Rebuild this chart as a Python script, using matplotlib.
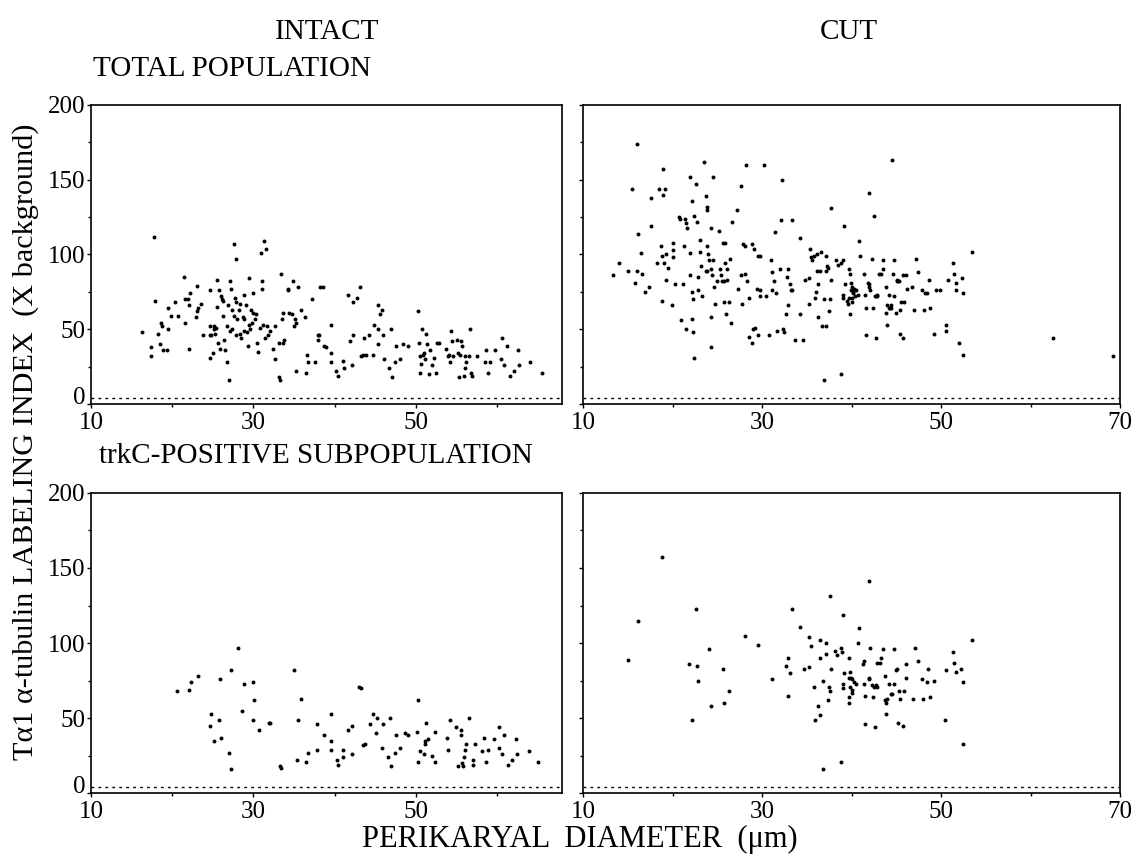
import matplotlib
matplotlib.use("Agg")
import matplotlib.pyplot as plt
from matplotlib.ticker import MultipleLocator

plt.rcParams['font.family'] = ['Liberation Serif', 'DejaVu Serif']

# perikaryal diameter (um) vs labeling index (x background)
intact_total_x = [16.3, 17.4, 17.4, 17.8, 17.9, 18.3, 18.5, 18.6, 18.7, 18.9, 19.4, 19.5, 19.5, 19.9, 20.3,
                  20.7, 21.5, 21.6, 21.6, 21.9, 22.1, 22.1, 22.2, 22.9, 23.0, 23.1, 23.2, 23.5, 23.8, 24.6,
                  24.6, 24.7, 24.7, 24.8, 25.0, 25.1, 25.2, 25.3, 25.4, 25.5, 25.5, 25.6, 25.8, 25.9, 26.0,
                  26.1, 26.2, 26.3, 26.4, 26.5, 26.7, 26.8, 26.9, 27.0, 27.1, 27.1, 27.3, 27.4, 27.4, 27.6,
                  27.6, 27.7, 27.8, 27.9, 27.9, 28.0, 28.2, 28.3, 28.4, 28.5, 28.7, 28.8, 28.9, 28.9, 29.1,
                  29.2, 29.3, 29.4, 29.5, 29.6, 29.7, 29.8, 29.9, 30.0, 30.2, 30.3, 30.5, 30.6, 30.8, 30.9,
                  31.0, 31.1, 31.2, 31.3, 31.4, 31.5, 31.7, 31.8, 32.0, 32.4, 32.6, 32.7, 33.1, 33.2, 33.3,
                  33.4, 33.5, 33.7, 33.7, 33.8, 34.2, 34.3, 34.4, 34.7, 34.9, 35.0, 35.1, 35.2, 35.3, 35.5,
                  35.8, 36.3, 36.5, 36.6, 36.7, 37.2, 37.6, 37.9, 37.9, 38.1, 38.2, 38.6, 38.7, 38.9, 39.5,
                  39.5, 39.5, 40.2, 40.4, 41.0, 41.1, 41.7, 41.9, 42.1, 42.3, 42.3, 42.8, 43.1, 43.3, 43.5,
                  43.6, 43.9, 44.2, 44.7, 44.8, 45.3, 45.3, 45.4, 45.6, 45.8, 46.0, 46.1, 46.7, 46.9, 47.1,
                  47.4, 47.5, 48.1, 48.4, 49.0, 50.3, 50.4, 50.5, 50.5, 50.6, 50.7, 50.9, 51.0, 51.1, 51.3,
                  51.4, 51.6, 51.8, 52.0, 52.2, 52.5, 52.6, 52.9, 53.7, 53.9, 54.1, 54.2, 54.3, 54.4, 54.6,
                  55.1, 55.2, 55.3, 55.4, 55.6, 55.7, 55.9, 56.0, 56.1, 56.2, 56.5, 56.7, 56.8, 56.9, 57.5,
                  58.5, 58.7, 58.9, 59.1, 59.8, 60.5, 60.6, 60.9, 61.2, 61.6, 62.1, 62.6, 62.7, 64.1, 65.5]
intact_total_y = [48, 38, 32, 112, 69, 47, 40, 54, 52, 36, 36, 64, 50, 59, 68,
                  59, 85, 70, 54, 70, 66, 37, 74, 58, 79, 62, 64, 67, 46, 76,
                  31, 52, 46, 46, 34, 50, 52, 47, 51, 65, 83, 41, 76, 37, 72,
                  70, 69, 59, 43, 36, 52, 28, 66, 16, 82, 49, 77, 50, 63, 107,
                  59, 71, 97, 46, 68, 57, 63, 47, 67, 44, 58, 73, 57, 49, 66,
                  48, 39, 53, 84, 50, 63, 54, 74, 61, 57, 60, 41, 35, 51, 101,
                  77, 82, 53, 109, 44, 104, 52, 46, 49, 37, 52, 30, 41, 18, 16,
                  87, 57, 41, 61, 43, 77, 76, 61, 60, 82, 52, 57, 54, 22, 78,
                  63, 58, 21, 33, 28, 70, 28, 46, 43, 46, 78, 78, 39, 38, 34,
                  53, 28, 22, 19, 29, 24, 73, 42, 26, 46, 68, 71, 78, 32, 33,
                  44, 33, 46, 33, 53, 66, 50, 40, 60, 63, 46, 30, 24, 50, 18,
                  28, 39, 30, 40, 39, 62, 41, 32, 21, 27, 50, 33, 34, 30, 47,
                  40, 20, 36, 26, 31, 21, 41, 41, 37, 32, 33, 28, 49, 42, 32,
                  43, 34, 18, 33, 42, 39, 19, 24, 32, 28, 32, 50, 21, 19, 32,
                  28, 36, 21, 28, 36, 30, 44, 26, 39, 19, 22, 36, 26, 28, 21]

cut_total_x = [13.4, 14.0, 15.0, 15.5, 15.8, 16.0, 16.0, 16.2, 16.5, 16.6, 16.9, 17.4, 17.6, 17.6, 18.3,
               18.5, 18.7, 18.8, 18.8, 18.9, 18.9, 19.0, 19.2, 19.3, 19.3, 19.5, 19.9, 20.0, 20.1, 20.1,
               20.3, 20.7, 20.8, 21.0, 21.2, 21.3, 21.4, 21.5, 21.5, 21.6, 21.9, 21.9, 22.0, 22.2, 22.2,
               22.2, 22.3, 22.3, 22.4, 22.4, 22.6, 22.7, 22.8, 22.9, 23.1, 23.1, 23.2, 23.3, 23.5, 23.7,
               23.7, 23.8, 23.8, 23.9, 23.9, 24.0, 24.1, 24.3, 24.3, 24.3, 24.3, 24.4, 24.5, 24.5, 24.6,
               24.7, 25.0, 25.2, 25.3, 25.4, 25.5, 25.6, 25.7, 25.7, 25.9, 25.9, 26.0, 26.1, 26.1, 26.3,
               26.4, 26.5, 26.7, 27.2, 27.3, 27.6, 27.7, 27.8, 27.9, 28.1, 28.1, 28.2, 28.3, 28.5, 28.6,
               28.9, 28.9, 29.0, 29.1, 29.2, 29.4, 29.5, 29.6, 29.8, 29.8, 29.8, 30.2, 30.4, 30.8, 31.0,
               31.1, 31.1, 31.3, 31.4, 31.6, 31.7, 32.0, 32.1, 32.2, 32.4, 32.5, 32.7, 32.8, 32.9, 32.9,
               33.1, 33.2, 33.3, 33.4, 33.7, 34.2, 34.2, 34.6, 34.8, 35.2, 35.3, 35.4, 35.5, 35.6, 35.8,
               35.9, 36.0, 36.1, 36.1, 36.2, 36.3, 36.5, 36.6, 36.7, 36.9, 36.9, 37.1, 37.2, 37.2, 37.3,
               37.4, 37.5, 37.6, 37.7, 37.7, 38.3, 38.5, 38.8, 38.8, 39.0, 39.0, 39.1, 39.2, 39.3, 39.5,
               39.6, 39.7, 39.7, 39.8, 39.8, 39.9, 39.9, 40.0, 40.1, 40.1, 40.2, 40.2, 40.3, 40.4, 40.5,
               40.7, 40.8, 40.9, 41.4, 41.5, 41.6, 41.6, 41.8, 41.9, 42.0, 42.0, 42.1, 42.3, 42.4, 42.5,
               42.6, 42.7, 42.7, 42.9, 42.9, 43.1, 43.3, 43.5, 43.5, 43.8, 43.9, 44.0, 44.0, 44.2, 44.2,
               44.3, 44.4, 44.4, 44.5, 44.6, 44.8, 44.8, 45.0, 45.1, 45.1, 45.2, 45.3, 45.4, 45.4, 45.5,
               45.7, 45.8, 45.9, 46.1, 46.2, 46.8, 47.0, 47.2, 47.4, 47.9, 48.1, 48.2, 48.4, 48.6, 48.8,
               49.2, 49.4, 49.9, 50.5, 50.5, 50.8, 51.3, 51.5, 51.7, 51.7, 52.0, 52.3, 52.5, 52.5, 53.5,
               62.5, 69.2]
cut_total_y = [86, 94, 89, 144, 81, 174, 89, 114, 101, 87, 75, 78, 138, 119, 94,
               144, 106, 99, 69, 157, 140, 94, 144, 83, 100, 91, 66, 103, 108, 98,
               80, 125, 124, 56, 80, 106, 124, 50, 121, 118, 101, 86, 152, 75, 57,
               136, 48, 70, 31, 126, 147, 122, 85, 76, 110, 102, 92, 72, 162, 89,
               139, 106, 130, 132, 89, 100, 96, 118, 90, 58, 38, 86, 96, 152, 78,
               67, 82, 116, 90, 86, 82, 108, 68, 82, 108, 94, 60, 83, 90, 68,
               97, 54, 122, 130, 77, 146, 86, 67, 107, 106, 87, 160, 82, 45, 71,
               41, 107, 50, 104, 51, 77, 46, 99, 99, 76, 72, 160, 72, 46, 96,
               88, 76, 82, 115, 74, 49, 90, 123, 150, 50, 48, 60, 85, 66, 90,
               80, 76, 123, 76, 43, 111, 60, 43, 83, 84, 67, 104, 98, 96, 99,
               71, 75, 89, 100, 80, 58, 89, 102, 52, 70, 16, 89, 99, 52, 92,
               91, 62, 70, 131, 83, 96, 93, 94, 20, 96, 73, 71, 119, 80, 69,
               67, 71, 90, 87, 60, 81, 76, 68, 78, 71, 75, 74, 77, 72, 76,
               73, 109, 99, 87, 73, 64, 46, 81, 141, 78, 80, 76, 97, 64, 126,
               72, 72, 44, 73, 72, 87, 87, 90, 96, 78, 61, 53, 66, 73, 64,
               64, 66, 64, 163, 87, 96, 72, 61, 83, 82, 82, 82, 47, 63, 68,
               86, 44, 68, 86, 77, 78, 63, 97, 88, 76, 63, 74, 74, 83, 64,
               47, 76, 76, 53, 49, 83, 94, 87, 76, 81, 41, 84, 74, 33, 102,
               44, 32]

intact_trkc_x = [20.6, 22.1, 22.3, 23.2, 24.7, 24.8, 25.1, 25.8, 25.9, 26.0, 27.0, 27.2, 27.2, 28.1, 28.6,
                 28.9, 30.0, 30.1, 30.0, 30.7, 31.9, 32.1, 33.3, 33.4, 35.0, 35.4, 35.5, 35.8, 36.5, 36.7,
                 37.8, 37.8, 38.7, 39.5, 39.6, 39.6, 40.3, 40.4, 41.0, 41.0, 41.7, 42.1, 42.2, 43.0, 43.2,
                 43.5, 43.7, 44.3, 44.7, 45.1, 45.2, 45.8, 45.9, 46.6, 46.8, 47.0, 47.4, 47.5, 48.1, 48.7,
                 49.0, 50.2, 50.3, 50.3, 50.5, 51.0, 51.1, 51.1, 51.3, 51.5, 52.0, 52.4, 52.4, 53.8, 54.0,
                 54.2, 54.9, 55.2, 55.5, 55.6, 55.7, 55.8, 55.9, 56.0, 56.2, 56.5, 57.0, 57.1, 57.3, 58.2,
                 58.4, 58.7, 58.9, 59.6, 60.2, 60.3, 60.6, 60.8, 61.3, 61.8, 62.3, 62.5, 63.9, 65.1]
intact_trkc_y = [68, 69, 74, 78, 45, 53, 35, 49, 76, 37, 27, 16, 82, 97, 55,
                 73, 74, 62, 49, 42, 47, 47, 18, 17, 82, 22, 49, 63, 21, 27,
                 46, 29, 39, 53, 35, 29, 22, 19, 29, 24, 42, 26, 45, 71, 70,
                 32, 33, 46, 53, 40, 50, 30, 46, 24, 50, 18, 27, 39, 30, 40,
                 39, 41, 62, 21, 28, 26, 33, 35, 47, 36, 25, 41, 21, 37, 29,
                 49, 44, 18, 42, 39, 20, 18, 24, 29, 33, 50, 22, 19, 33, 28,
                 37, 21, 29, 36, 30, 44, 26, 39, 19, 22, 36, 26, 28, 21]

cut_trkc_x = [15.0, 16.1, 18.8, 21.8, 22.2, 22.6, 22.7, 22.8, 24.1, 24.3, 25.6, 25.8, 26.3, 28.1, 29.5,
              31.1, 32.7, 32.9, 32.9, 33.1, 33.3, 34.2, 34.7, 35.2, 35.2, 35.5, 35.8, 35.9, 36.3, 36.5,
              36.5, 36.5, 36.8, 36.8, 37.1, 37.1, 37.4, 37.5, 37.6, 37.6, 37.7, 38.2, 38.4, 38.8, 38.9,
              38.8, 39.0, 39.0, 39.1, 39.2, 39.7, 39.7, 39.7, 39.7, 39.8, 39.8, 39.9, 40.0, 40.1, 40.1,
              40.3, 40.5, 40.7, 40.8, 41.3, 41.4, 41.4, 41.5, 41.5, 41.9, 41.9, 42.0, 42.1, 42.3, 42.4,
              42.5, 42.6, 42.7, 42.8, 42.8, 43.2, 43.3, 43.5, 43.7, 43.7, 43.8, 43.9, 44.0, 44.2, 44.4,
              44.5, 44.7, 44.7, 45.0, 45.1, 45.2, 45.3, 45.4, 45.7, 45.9, 46.1, 46.1, 46.9, 47.1, 47.4,
              47.9, 48.0, 48.4, 48.5, 48.8, 49.2, 50.4, 50.6, 51.3, 51.4, 51.7, 52.2, 52.4, 52.4, 53.5]
cut_trkc_y = [89, 115, 157, 86, 49, 123, 85, 75, 96, 58, 83, 60, 68, 105, 99,
              76, 85, 90, 65, 80, 123, 111, 83, 84, 104, 98, 71, 49, 58, 90,
              52, 102, 16, 75, 93, 100, 62, 71, 131, 68, 83, 95, 92, 97, 94,
              21, 73, 70, 119, 80, 90, 77, 64, 60, 71, 81, 77, 69, 76, 67,
              74, 73, 100, 110, 86, 88, 73, 46, 65, 141, 76, 77, 97, 72, 64,
              71, 44, 72, 71, 87, 87, 90, 96, 78, 62, 53, 60, 63, 73, 66,
              66, 73, 96, 82, 83, 47, 68, 63, 45, 68, 77, 86, 63, 97, 88,
              76, 63, 74, 83, 64, 75, 49, 82, 94, 87, 81, 83, 74, 33, 102]

background = 4
fs = 18

fig = plt.figure(figsize=(11.4, 8.55), dpi=100)

panels = [
    ([0.0798, 0.5275, 0.4132, 0.3497], intact_total_x, intact_total_y, 68, [10, 30, 50], True),
    ([0.5114, 0.5275, 0.4711, 0.3497], cut_total_x, cut_total_y, 70, [10, 30, 50, 70], False),
    ([0.0798, 0.0725, 0.4132, 0.3509], intact_trkc_x, intact_trkc_y, 68, [10, 30, 50], True),
    ([0.5114, 0.0725, 0.4711, 0.3509], cut_trkc_x, cut_trkc_y, 70, [10, 30, 50, 70], False),
]

for rect, xs, ys, xmax, xt, ylab in panels:
    ax = fig.add_axes(rect)
    ax.scatter(xs, ys, s=8, color='black', linewidths=0)
    ax.axhline(background, color='black', lw=1.0, ls=(0, (2, 3)))
    ax.set_xlim(10, xmax)
    ax.set_ylim(0, 200)
    ax.set_xticks(xt)
    ax.set_yticks([0, 50, 100, 150, 200])
    ax.xaxis.set_minor_locator(MultipleLocator(10))
    ax.yaxis.set_minor_locator(MultipleLocator(25))
    ax.tick_params(which='both', direction='out', length=3, width=1, labelsize=fs)
    ax.tick_params(axis='y', pad=1)
    ax.tick_params(axis='x', pad=3)
    ax.tick_params(which='minor', length=2)
    if ylab:
        ax.get_yticklabels()[0].set_verticalalignment('baseline')
    else:
        ax.set_yticklabels([])
    for sp in ax.spines.values():
        sp.set_linewidth(1.2)

fig.text(0.287, 0.962, 'INTACT', fontsize=21, ha='center', va='center')
fig.text(0.745, 0.962, 'CUT', fontsize=21, ha='center', va='center')
fig.text(0.082, 0.919, 'TOTAL POPULATION', fontsize=21, ha='left', va='center')
fig.text(0.087, 0.467, 'trkC-POSITIVE SUBPOPULATION', fontsize=21, ha='left', va='center')
fig.text(0.509, 0.009, 'PERIKARYAL  DIAMETER  (μm)', fontsize=22, ha='center', va='baseline')
fig.text(0.022, 0.483, 'Tα1 α-tubulin LABELING INDEX  (X background)', fontsize=21.8,
         ha='center', va='center', rotation=90)

fig.savefig('out.png', dpi=100)
